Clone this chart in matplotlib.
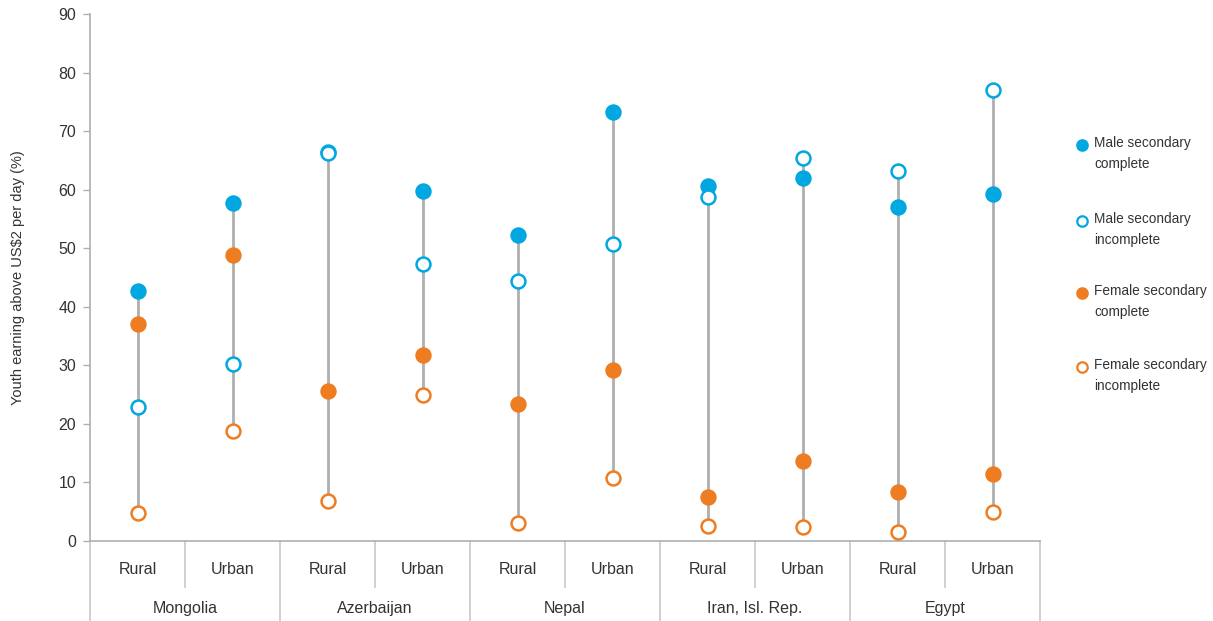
import matplotlib
matplotlib.use("Agg")
import matplotlib.pyplot as plt
import numpy as np

plt.rcParams['font.family'] = ['Liberation Sans', 'DejaVu Sans']

countries = ["Mongolia", "Azerbaijan", "Nepal", "Iran, Isl. Rep.", "Egypt"]
areas = ["Rural", "Urban"]
male_complete = [42.7, 57.7, 66.4, 59.8, 52.3, 73.3, 60.6, 62.0, 57.0, 59.3]
male_incomplete = [22.9, 30.2, 66.2, 47.3, 44.4, 50.7, 58.7, 65.4, 63.2, 77.0]
female_complete = [37.1, 48.8, 25.6, 31.8, 23.4, 29.2, 7.5, 13.7, 8.4, 11.4]
female_incomplete = [4.8, 18.8, 6.8, 24.9, 3.1, 10.8, 2.6, 2.4, 1.5, 5.0]
yticks = [0, 10, 20, 30, 40, 50, 60, 70, 80, 90]

BLUE = "#00A7E1"
ORANGE = "#EE7D22"
GRAY = "#AFAFAF"
TXT = "#333333"

W, H = 1213, 621
fig = plt.figure(figsize=(W/100, H/100), dpi=100)
ax = fig.add_axes([90/W, 80/H, 950/W, 527/H])

n = len(male_complete)
x = np.arange(n)
allv = np.array([male_complete, male_incomplete, female_complete, female_incomplete])
ax.vlines(x, allv.min(axis=0), allv.max(axis=0), color=GRAY, lw=2, zorder=1)

ms = 10
mew = 1.8
ax.plot(x, male_complete, 'o', ms=ms, color=BLUE, mec=BLUE, mew=mew, ls='none', zorder=3)
ax.plot(x, female_complete, 'o', ms=ms, color=ORANGE, mec=ORANGE, mew=mew, ls='none', zorder=3)
ax.plot(x, male_incomplete, 'o', ms=ms, mfc='white', mec=BLUE, mew=mew, ls='none', zorder=4)
ax.plot(x, female_incomplete, 'o', ms=ms, mfc='white', mec=ORANGE, mew=mew, ls='none', zorder=4)

ax.set_xlim(-0.5, n - 0.5)
ax.set_ylim(0, 90)
ax.set_yticks(yticks)
ax.set_yticklabels([str(v) for v in yticks], fontsize=11.5, color=TXT)
ax.tick_params(axis='y', length=5, width=1, color=GRAY, pad=5)
ax.set_xticks([])
for s in ['top', 'right']:
    ax.spines[s].set_visible(False)
for s in ['left', 'bottom']:
    ax.spines[s].set_color(GRAY)
    ax.spines[s].set_linewidth(1.2)

ax.set_ylabel("Youth earning above US$2 per day (%)", fontsize=10.5, color=TXT, labelpad=24)

# category table below axis
trans = ax.get_xaxis_transform()
row1 = -46 / 527
row2 = -80 / 527
for i in range(n):
    ax.text(x[i], -28/527, areas[i % 2], transform=trans, ha='center', va='center', fontsize=11.5, color=TXT)
for j, c in enumerate(countries):
    ax.text(2*j + 0.5, -68/527, c, transform=trans, ha='center', va='center', fontsize=11.5, color=TXT)
for b in np.arange(n + 1) - 0.5:
    idx = int(b + 0.5)
    end = row2 if idx % 2 == 0 else row1
    ax.plot([b, b], [0, end], transform=trans, color="#C8C8C8", lw=1.2, clip_on=False)

# manual legend
leg_items = [
    ("Male secondary\ncomplete", BLUE, True, 145),
    ("Male secondary\nincomplete", BLUE, False, 221),
    ("Female secondary\ncomplete", ORANGE, True, 293),
    ("Female secondary\nincomplete", ORANGE, False, 367),
]
for label, col, filled, py in leg_items:
    fy = 1 - py / H
    fig.add_artist(plt.Line2D([1082/W], [fy], marker='o', ms=7.5, ls='none',
                              mfc=col if filled else 'white', mec=col, mew=1.6,
                              transform=fig.transFigure))
    fig.text(1094/W, fy + 9/H, label, ha='left', va='top', fontsize=9.8,
             color=TXT, linespacing=1.65)

fig.savefig("out.png", dpi=100)
